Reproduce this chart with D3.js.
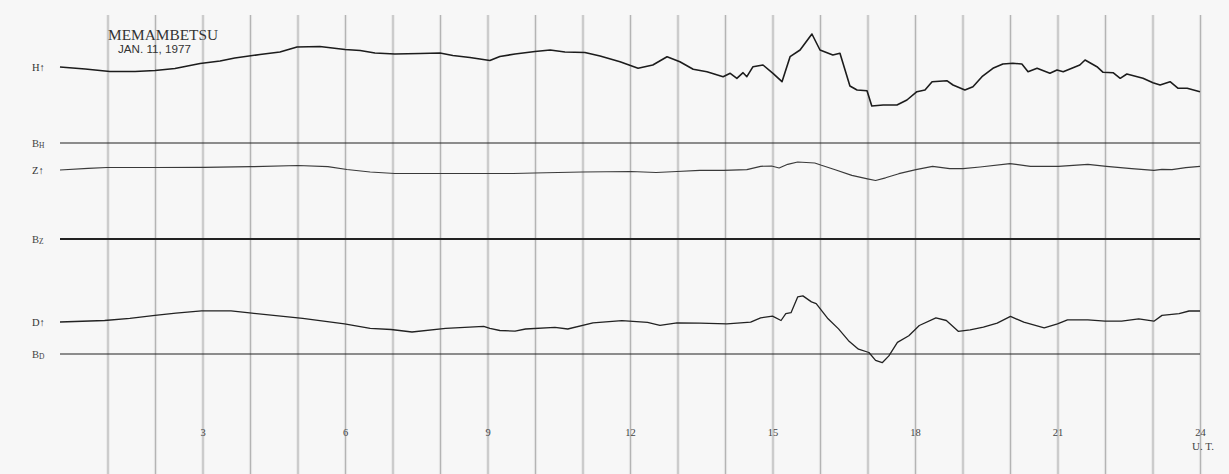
<!DOCTYPE html>
<html><head><meta charset="utf-8">
<script src="https://cdn.jsdelivr.net/npm/d3@7"></script>
<style>html,body{margin:0;padding:0;background:#f7f7f7;}svg{display:block;}</style>
</head><body>
<svg id="c" width="1229" height="474"></svg>
<script>
// ---- data (hours UT, trace deflection above its baseline, arbitrary units) ----
const station = "MEMAMBETSU";
const dateLabel = "JAN. 11, 1977";
const hourTicks = [3, 6, 9, 12, 15, 18, 21, 24];
const gridHours = d3.range(1, 25);

const hTime = [0,0.53,1.05,1.58,2.00,2.42,2.95,3.37,3.68,4.21,4.63,4.99,5.47,6.00,6.32,6.63,7.05,7.58,8.00,8.27,8.63,9.05,9.26,9.58,10.00,10.32,10.63,11.05,11.37,11.79,12.17,12.48,12.78,13.05,13.33,13.62,13.96,14.11,14.25,14.38,14.46,14.59,14.80,15.01,15.20,15.37,15.58,15.83,16.00,16.27,16.42,16.63,16.78,16.99,17.09,17.33,17.62,17.83,18.04,18.21,18.36,18.67,18.80,19.05,19.22,19.41,19.64,19.85,20.06,20.25,20.38,20.57,20.84,20.99,21.12,21.47,21.58,21.83,21.96,22.17,22.32,22.46,22.80,23.01,23.16,23.37,23.54,23.73,24];
const hValue = [76,74,71.5,71.5,72.5,74.5,79.5,82,85,88.5,91,96,96.5,93.5,92.5,90,89,89.5,90,87.5,85.5,82.5,86.5,89,91.5,93,91,90.5,87,81.3,74.7,78,86.3,81.3,73.7,71.3,66.3,69.7,64.7,70.3,66.3,76.3,78,69.7,61.3,86.3,93,109,93,88,89.7,57,53,52.3,37,38,38,43,51.3,53,61.3,62.3,58,53,56.3,66.3,74.7,79,79.7,79,71.3,74.7,69.7,73,71.3,78,83,76.3,70.7,70.3,64.7,69,64.7,60.3,58,61.3,54.7,54.7,51.3];

const zTime = [0,0.59,0.99,2.00,3.03,4.02,5.01,5.64,6.04,6.53,7.05,7.98,9.01,9.54,9.98,10.99,12.02,12.55,12.99,13.47,13.97,14.46,14.75,14.98,15.14,15.32,15.53,15.89,16.03,16.32,16.67,17.00,17.17,17.38,17.66,18.02,18.37,18.73,19.01,19.37,20.00,20.43,21.02,21.64,22.03,22.56,23.03,23.20,23.41,23.70,24];
const zValue = [69,70.6,71.5,71.5,71.7,72.3,73.5,72.3,69.5,67,65.5,65.5,65.5,65.5,66,67,67.5,66.5,67.5,68.6,68.6,69.3,72.7,73,71,74.7,77,76,73.7,69.3,63.6,60.2,58.5,61.2,65.3,69.3,72.7,70.3,70.3,72,75.4,72.7,72.7,74.7,72.7,70.3,68.6,69.6,69.3,71.3,72.7];

const dTime = [0,0.94,1.47,2.00,2.44,2.98,3.60,4.04,5.11,5.99,6.53,6.97,7.41,8.12,8.92,9.05,9.26,9.58,9.80,10.42,10.69,11.22,11.83,12.37,12.63,12.99,13.47,14.04,14.54,14.75,15.00,15.18,15.28,15.39,15.53,15.64,15.82,15.92,16.17,16.39,16.60,16.81,17.03,17.17,17.31,17.45,17.63,17.87,18.09,18.44,18.66,18.91,19.16,19.44,19.73,20.01,20.29,20.72,21.00,21.21,21.64,22.00,22.35,22.71,23.03,23.20,23.56,23.77,24];
const dValue = [32,33.5,35.6,38.6,40.8,43.2,43.2,40.8,35.6,30.2,25.6,24.5,22,25.6,27.6,25.6,23.5,22.9,25,26.6,25,31.2,33.3,31.7,28.6,31.2,30.8,30.1,31.8,36.2,37.9,33.5,40.3,41.3,57.1,58.1,52.1,50.4,35.2,25.1,13.3,4.8,1.5,-6.3,-8.7,-1.9,11.6,18.3,28.5,36.2,33.5,22.7,24.1,26.8,30.8,37.6,31.8,26.1,30.1,34.2,34.2,32.8,32.8,35.2,32.8,38.6,40.3,43,43];

// ---- layout ----
const svg = d3.select("#c");
const x = d3.scaleLinear().domain([0, 24]).range([60, 1200]);
const traces = [
  {name:"H", sub:"H", t:hTime, v:hValue, base:143, w:1.6, col:"#1c1c1c"},
  {name:"Z", sub:"Z", t:zTime, v:zValue, base:239, w:1.2, col:"#3a3a3a"},
  {name:"D", sub:"D", t:dTime, v:dValue, base:354, w:1.3, col:"#222"}
];
const baseW = {H:1.2, Z:1.9, D:1.2};

// grid lines (hourly)
const gridAxis = d3.axisBottom(x).tickValues(gridHours).tickSize(474 - 15).tickFormat("");
const g1 = svg.append("g").attr("transform","translate(0,15)").call(gridAxis);
g1.select(".domain").remove();
g1.selectAll(".tick line").attr("stroke","#e4e4e4").attr("stroke-width",3.2);
const g2 = svg.append("g").attr("transform","translate(0,15)").call(gridAxis);
g2.select(".domain").remove();
g2.selectAll(".tick line").attr("stroke","#b4b4b4").attr("stroke-width",1);

// tick labels
const lblAxis = d3.axisBottom(x).tickValues(hourTicks).tickSize(0).tickPadding(0);
const g3 = svg.append("g").attr("transform","translate(0,429)").call(lblAxis);
g3.select(".domain").remove();
g3.selectAll(".tick text").attr("font-family","Liberation Serif, serif").attr("font-size",10.5).attr("fill","#444").attr("dy","0").attr("y",7);
svg.append("text").attr("x", x(24)+3).attr("y", 450).attr("text-anchor","middle")
  .attr("font-family","Liberation Serif, serif").attr("font-size",11).attr("fill","#444").text("U. T.");

// baselines and traces
traces.forEach(tr => {
  const y = d3.scaleLinear().domain([0, 120]).range([tr.base, tr.base - 120]);
  svg.append("line").attr("x1", x(0)).attr("x2", x(24)).attr("y1", y(0)).attr("y2", y(0))
    .attr("stroke","#222").attr("stroke-width", baseW[tr.name]);
  const pts = tr.t.map((t,i)=>[t, tr.v[i]]);
  const line = d3.line().x(d=>x(d[0])).y(d=>y(d[1])).curve(d3.curveLinear);
  svg.append("path").datum(pts).attr("d", line).attr("fill","none")
    .attr("stroke", tr.col).attr("stroke-width", tr.w).attr("stroke-linejoin","round");
  // labels
  const ly = y(tr.v[0]);
  svg.append("text").attr("x", 32).attr("y", ly + 4)
    .attr("font-family","Liberation Serif, serif").attr("font-size",10.5).attr("fill","#333")
    .text(tr.name + "\u2191");
  const bt = svg.append("text").attr("x", 32).attr("y", y(0) + 4)
    .attr("font-family","Liberation Serif, serif").attr("font-size",10.5).attr("fill","#444");
  bt.append("tspan").text("B");
  bt.append("tspan").attr("font-size",7.5).attr("dy",1).text(tr.sub);
});

// title
svg.append("text").attr("x",108).attr("y",40).attr("textLength",110).attr("lengthAdjust","spacingAndGlyphs")
  .attr("font-family","Liberation Serif, serif").attr("font-size",15).attr("fill","#333").text(station);
svg.append("text").attr("x",118).attr("y",53).attr("textLength",73).attr("lengthAdjust","spacingAndGlyphs")
  .attr("font-family","Liberation Sans Narrow, Liberation Sans, sans-serif").attr("font-size",11).attr("fill","#333").text(dateLabel);
</script>
</body></html>
